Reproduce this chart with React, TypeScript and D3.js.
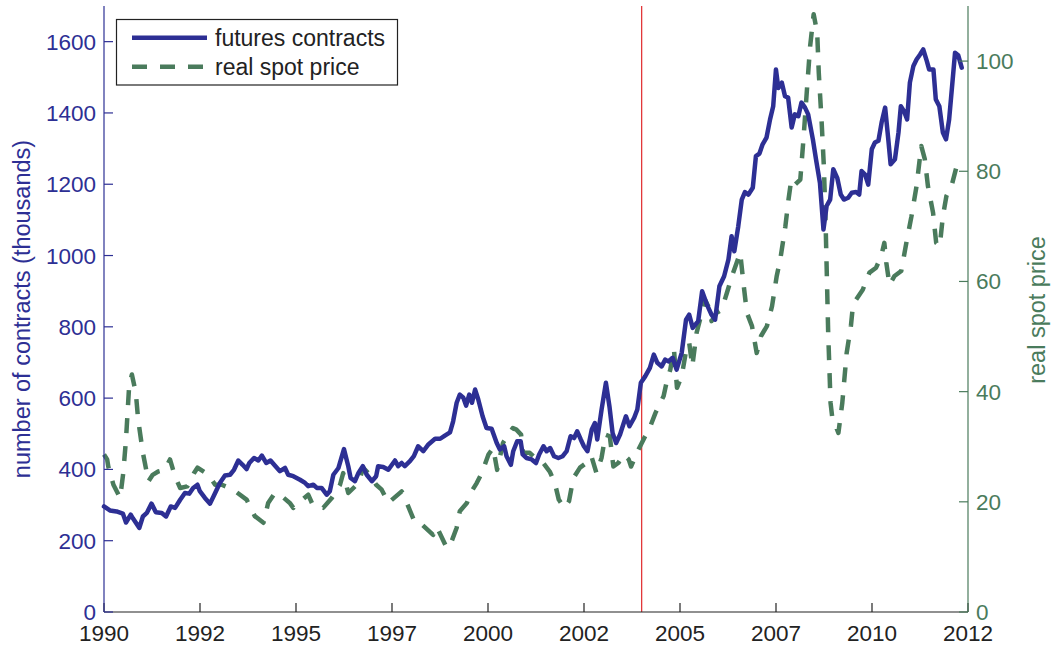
import React from "react";
import * as d3 from "d3";

// ---------- data ----------
const futuresYears = [
  1990.0, 1990.15, 1990.32, 1990.48, 1990.56, 1990.68, 1990.74, 1990.9, 1990.99, 1991.09,
  1991.21, 1991.32, 1991.47, 1991.58, 1991.7, 1991.81, 1991.94, 1992.06, 1992.17, 1992.27,
  1992.38, 1992.44, 1992.57, 1992.7, 1992.83, 1992.95, 1993.08, 1993.21, 1993.31, 1993.42,
  1993.53, 1993.63, 1993.7, 1993.82, 1993.93, 1994.02, 1994.13, 1994.24, 1994.35, 1994.48,
  1994.61, 1994.69, 1994.82, 1994.99, 1995.12, 1995.2, 1995.33, 1995.42, 1995.54, 1995.67,
  1995.75, 1995.84, 1995.97, 1996.11, 1996.22, 1996.28, 1996.39, 1996.48, 1996.59, 1996.69,
  1996.82, 1996.93, 1996.98, 1997.11, 1997.24, 1997.41, 1997.49, 1997.58, 1997.66, 1997.79,
  1997.89, 1998.0, 1998.13, 1998.26, 1998.43, 1998.56, 1998.68, 1998.81, 1998.89, 1998.98,
  1999.06, 1999.15, 1999.22, 1999.3, 1999.37, 1999.45, 1999.53, 1999.64, 1999.74, 1999.87,
  2000.0, 2000.08, 2000.19, 2000.25, 2000.36, 2000.42, 2000.52, 2000.61, 2000.66, 2000.76,
  2000.89, 2001.0, 2001.08, 2001.19, 2001.27, 2001.36, 2001.46, 2001.57, 2001.68, 2001.78,
  2001.88, 2001.97, 2002.05, 2002.14, 2002.22, 2002.31, 2002.42, 2002.5, 2002.56, 2002.67,
  2002.78, 2002.87, 2002.95, 2003.04, 2003.14, 2003.29, 2003.38, 2003.5, 2003.58, 2003.67,
  2003.78, 2003.9, 2004.0, 2004.09, 2004.2, 2004.29, 2004.37, 2004.48, 2004.58, 2004.71,
  2004.82, 2004.9, 2004.99, 2005.13, 2005.23, 2005.35, 2005.47, 2005.56, 2005.67, 2005.79,
  2005.9, 2005.98, 2006.05, 2006.15, 2006.24, 2006.32, 2006.41, 2006.52, 2006.6, 2006.69,
  2006.77, 2006.87, 2006.96, 2007.04, 2007.11, 2007.17, 2007.26, 2007.34, 2007.42, 2007.51,
  2007.59, 2007.68, 2007.76, 2007.85, 2007.93, 2008.05, 2008.13, 2008.23, 2008.32, 2008.4,
  2008.49, 2008.57, 2008.67, 2008.76, 2008.84, 2008.95, 2009.04, 2009.15, 2009.23, 2009.29,
  2009.38, 2009.46, 2009.55, 2009.63, 2009.72, 2009.8, 2009.89, 2009.97, 2010.03, 2010.14,
  2010.23, 2010.29, 2010.37, 2010.45, 2010.52, 2010.61, 2010.69, 2010.78, 2010.86, 2010.95,
  2011.01, 2011.12, 2011.18, 2011.27, 2011.36, 2011.44, 2011.52, 2011.61, 2011.67, 2011.75,
  2011.84,
];
const futuresValues = [
  296, 285, 282, 276, 251, 273, 262, 236, 268, 278,
  304, 280, 278, 268, 296, 292, 315, 334, 332, 348,
  357, 339, 320, 304, 334, 362, 383, 385, 399, 425,
  413, 401, 418, 432, 425, 439, 418, 425, 411, 395,
  404, 385, 381, 371, 362, 353, 357, 348, 348, 329,
  339, 385, 404, 457, 409, 376, 367, 390, 409, 385,
  367, 381, 409, 407, 399, 425, 409, 418, 409, 423,
  437, 465, 451, 470, 486, 486, 495, 504, 535, 587,
  610, 601, 579, 610, 587, 624, 596, 549, 516, 514,
  474, 456, 465, 437, 413, 451, 479, 479, 442, 432,
  428, 418, 442, 465, 451, 460, 437, 432, 437, 451,
  493, 488, 507, 484, 465, 451, 512, 530, 484, 568,
  643, 577, 502, 474, 498, 549, 521, 545, 568, 643,
  661, 685, 722, 699, 689, 708, 703, 713, 680, 727,
  820, 834, 797, 816, 900, 863, 834, 820, 914, 942,
  989, 1054, 1012, 1082, 1157, 1178, 1171, 1190, 1279, 1286,
  1312, 1331, 1382, 1419, 1522, 1470, 1485, 1447, 1443, 1359,
  1396, 1391, 1429, 1415, 1396, 1326, 1270, 1204, 1073, 1139,
  1157, 1242, 1218, 1171, 1157, 1162, 1176, 1178, 1171, 1237,
  1227, 1199, 1298, 1317, 1322, 1373, 1415, 1326, 1256, 1270,
  1345, 1419, 1405, 1382, 1485, 1532, 1550, 1564, 1578, 1546,
  1522, 1522, 1438, 1419, 1345, 1326, 1382, 1494, 1569, 1562,
  1527,
];

const spotYears = [
  1990.0, 1990.08, 1990.11, 1990.24, 1990.41, 1990.49, 1990.56, 1990.64, 1990.71, 1990.81,
  1990.87, 1990.99, 1991.04, 1991.13, 1991.24, 1991.38, 1991.55, 1991.68, 1991.81, 1991.94,
  1992.12, 1992.29, 1992.38, 1992.66, 1992.83, 1993.0, 1993.29, 1993.63, 1993.84, 1994.06,
  1994.18, 1994.35, 1994.48, 1994.73, 1994.82, 1994.95, 1995.2, 1995.33, 1995.58, 1995.8,
  1996.01, 1996.09, 1996.22, 1996.48, 1996.6, 1996.77, 1996.93, 1997.07, 1997.24, 1997.58,
  1997.71, 1997.92, 1998.09, 1998.38, 1998.47, 1998.73, 1998.85, 1998.98, 1999.06, 1999.24,
  1999.36, 1999.49, 1999.62, 1999.79, 1999.91, 2000.01, 2000.16, 2000.24, 2000.41, 2000.5,
  2000.62, 2000.67, 2000.84, 2000.97, 2001.18, 2001.35, 2001.48, 2001.58, 2001.72, 2001.84,
  2001.95, 2002.12, 2002.29, 2002.41, 2002.54, 2002.67, 2002.77, 2002.88, 2002.97, 2003.1,
  2003.23, 2003.36, 2003.42, 2003.61, 2003.78, 2003.91, 2004.04, 2004.12, 2004.25, 2004.34,
  2004.42, 2004.51, 2004.59, 2004.71, 2004.84, 2004.9, 2004.98, 2005.09, 2005.22, 2005.3,
  2005.43, 2005.47, 2005.6, 2005.73, 2005.86, 2005.99, 2006.11, 2006.2, 2006.28, 2006.37,
  2006.5, 2006.62, 2006.73, 2006.88, 2007.01, 2007.13, 2007.22, 2007.35, 2007.43, 2007.5,
  2007.6, 2007.73, 2007.81, 2007.9, 2007.98, 2008.07, 2008.16, 2008.2, 2008.27, 2008.33,
  2008.37, 2008.4, 2008.44, 2008.5, 2008.54, 2008.7, 2008.8, 2008.91, 2009.02, 2009.06,
  2009.15, 2009.32, 2009.49, 2009.66, 2009.79, 2009.87, 2009.92, 2010.0, 2010.13, 2010.3,
  2010.43, 2010.56, 2010.69, 2010.81, 2010.9, 2010.98, 2011.11, 2011.19, 2011.28, 2011.36,
  2011.45, 2011.58, 2011.71, 2011.79,
];
const spotValues = [
  28.6, 27.7, 26.4, 23.1, 20.7, 25.2, 31.3, 41.0, 43.1, 39.8,
  34.9, 28.9, 27.1, 23.7, 24.9, 25.5, 25.8, 27.7, 24.6, 22.5,
  22.8, 25.2, 26.2, 24.9, 23.1, 23.1, 22.2, 20.4, 17.4, 16.2,
  19.8, 21.6, 21.3, 19.8, 18.9, 19.8, 21.3, 19.2, 18.9, 20.7,
  23.1, 25.2, 21.6, 23.4, 26.2, 24.9, 23.1, 22.2, 19.8, 21.9,
  19.8, 16.2, 15.9, 14.0, 15.5, 11.6, 12.8, 15.3, 18.3, 19.8,
  21.9, 23.4, 25.2, 28.6, 29.8, 25.8, 30.7, 31.6, 33.4, 33.1,
  32.2, 28.9, 28.9, 28.0, 27.1, 25.5, 23.4, 20.4, 18.9, 20.1,
  24.3, 26.2, 27.1, 28.3, 25.2, 28.0, 32.2, 31.9, 26.4, 27.1,
  28.6, 27.7, 26.4, 29.5, 31.9, 33.7, 36.1, 37.3, 39.2, 42.2,
  44.0, 47.9, 40.7, 42.8, 48.2, 48.9, 44.6, 50.7, 54.3, 56.7,
  54.9, 52.8, 54.3, 54.9, 57.9, 61.0, 63.4, 65.2, 59.8, 54.3,
  51.9, 47.0, 50.1, 51.9, 55.5, 61.0, 64.0, 70.0, 74.9, 78.5,
  77.6, 78.5, 85.8, 94.9, 102.7, 108.5, 105.2, 97.9, 89.4, 80.9,
  71.8, 62.8, 50.7, 38.0, 35.5, 32.5, 38.0, 47.0, 52.0, 54.9,
  56.7, 58.5, 61.6, 62.5, 64.6, 67.0, 63.4, 59.4, 61.0, 61.9,
  67.0, 71.8, 77.3, 84.6, 82.2, 77.3, 72.5, 67.0, 66.4, 71.8,
  75.5, 77.3, 80.9, 81.5,
];

const xTickLabels = ["1990", "1992", "1995", "1997", "2000", "2002", "2005", "2007", "2010", "2012"];
const leftTicks = [0, 200, 400, 600, 800, 1000, 1200, 1400, 1600];
const rightTicks = [0, 20, 40, 60, 80, 100];
const markerYear = 2003.69;
const seriesNames = ["futures contracts", "real spot price"];

// ---------- styling ----------
const W = 1053;
const H = 650;
const M = { left: 104, right: 968, top: 6, bottom: 612 };
const BLUE = "#2d2f94";
const GREEN = "#4a7b5c";
const FONT = "'Liberation Sans', Arial, Helvetica, sans-serif";
const DASH = "15 13";

export default function App() {
  const x = d3.scaleLinear().domain([1990, 2012]).range([M.left, M.right]);
  const yL = d3.scaleLinear().domain([0, 1700]).range([M.bottom, M.top]);
  const yR = d3.scaleLinear().domain([0, 110]).range([M.bottom, M.top]);

  const xTickYears = xTickLabels.map((_, i) => 1990 + (i * 22) / (xTickLabels.length - 1));

  const futLine = d3
    .line<number>()
    .x((_, i) => x(futuresYears[i]))
    .y((d) => yL(d))
    .curve(d3.curveLinear);
  const spotLine = d3
    .line<number>()
    .x((_, i) => x(spotYears[i]))
    .y((d) => yR(d))
    .curve(d3.curveLinear);

  const tickLen = 9;
  const fs = 22.5;

  return (
    <svg
      width={W}
      height={H}
      style={{ position: "absolute", left: 0, top: 0, background: "#fff" }}
      fontFamily={FONT}
    >
      <rect x={0} y={0} width={W} height={H} fill="#fff" />

      {/* red marker line */}
      <line
        x1={x(markerYear)}
        x2={x(markerYear)}
        y1={M.top}
        y2={M.bottom}
        stroke="#e2383a"
        strokeWidth={1.3}
      />

      {/* series */}
      <path
        d={spotLine(spotValues) || ""}
        fill="none"
        stroke={GREEN}
        strokeWidth={4.5}
        strokeDasharray={DASH}
        strokeLinejoin="round"
      />
      <path
        d={futLine(futuresValues) || ""}
        fill="none"
        stroke={BLUE}
        strokeWidth={4.5}
        strokeLinejoin="round"
        strokeLinecap="round"
      />

      {/* bottom axis */}
      <line x1={M.left} x2={M.right} y1={M.bottom} y2={M.bottom} stroke="#222" strokeWidth={1.2} />
      {xTickYears.map((t, i) => (
        <g key={"xt" + i}>
          <line x1={x(t)} x2={x(t)} y1={M.bottom} y2={M.bottom - tickLen} stroke="#222" strokeWidth={1.2} />
          <text x={x(t)} y={M.bottom + 28.5} textAnchor="middle" fontSize={fs} fill="#222">
            {xTickLabels[i]}
          </text>
        </g>
      ))}

      {/* left axis */}
      <line x1={M.left} x2={M.left} y1={M.top} y2={M.bottom} stroke={BLUE} strokeWidth={1.2} />
      {leftTicks.map((t) => (
        <g key={"yl" + t}>
          <line x1={M.left} x2={M.left + tickLen} y1={yL(t)} y2={yL(t)} stroke={BLUE} strokeWidth={1.2} />
          <text x={M.left - 8} y={yL(t) + 8} textAnchor="end" fontSize={fs} fill={BLUE}>
            {t}
          </text>
        </g>
      ))}
      <text
        transform={`translate(${30},${309}) rotate(-90)`}
        textAnchor="middle"
        fontSize={23.5}
        fill={BLUE}
      >
        number of contracts (thousands)
      </text>

      {/* right axis */}
      <line x1={M.right} x2={M.right} y1={M.top} y2={M.bottom} stroke={GREEN} strokeWidth={1.2} />
      {rightTicks.map((t) => (
        <g key={"yr" + t}>
          <line x1={M.right} x2={M.right - tickLen} y1={yR(t)} y2={yR(t)} stroke={GREEN} strokeWidth={1.2} />
          <text x={M.right + 8} y={yR(t) + 8} textAnchor="start" fontSize={fs} fill={GREEN}>
            {t}
          </text>
        </g>
      ))}
      <text
        transform={`translate(${1045},${310}) rotate(-90)`}
        textAnchor="middle"
        fontSize={23.5}
        fill={GREEN}
      >
        real spot price
      </text>

      {/* legend */}
      <rect x={116.5} y={19.5} width={281} height={65.5} fill="#fff" stroke="#222" strokeWidth={1.2} />
      <line x1={132} x2={207} y1={37.7} y2={37.7} stroke={BLUE} strokeWidth={4.5} />
      <line x1={132} x2={207} y1={66.7} y2={66.7} stroke={GREEN} strokeWidth={4.5} strokeDasharray={DASH} />
      <text x={215} y={46} fontSize={23} fill="#222">
        {seriesNames[0]}
      </text>
      <text x={215} y={75} fontSize={23} fill="#222">
        {seriesNames[1]}
      </text>
    </svg>
  );
}
